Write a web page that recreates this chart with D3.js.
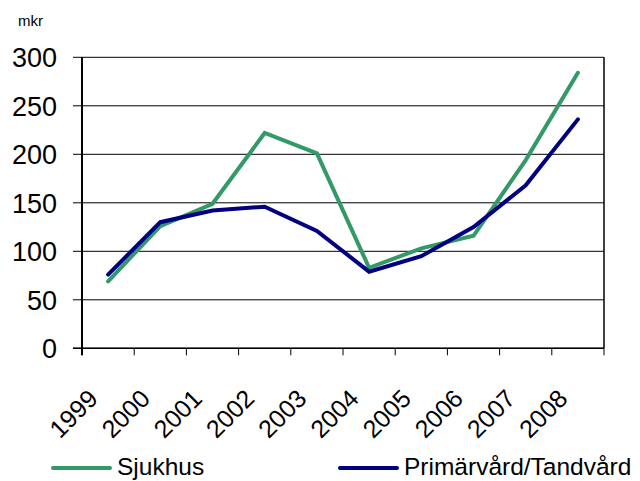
<!DOCTYPE html>
<html>
<head>
<meta charset="utf-8">
<script src="https://cdn.jsdelivr.net/npm/d3@7"></script>
<style>
  body { margin: 0; background: #fff; }
  text { font-family: "Liberation Sans", Arial, sans-serif; fill: #000; }
</style>
</head>
<body>
<div id="chart"></div>
<script>
const width = 640,
    height = 481;

// data
var years = ["1999", "2000", "2001", "2002", "2003", "2004", "2005", "2006", "2007", "2008"];
var sjukhus = [69, 126, 149, 222, 201, 83, 103, 116, 194, 284];
var primarvard = [76, 130, 142, 146, 121, 79, 95, 125, 168, 236];
var yTicks = [0, 50, 100, 150, 200, 250, 300];
var seriesNames = ["Sjukhus", "Primärvård/Tandvård"];
var seriesColors = ["#339966", "#000080"];

var svg = d3.select("#chart").append("svg")
    .attr("width", width)
    .attr("height", height);

var x = d3.scaleBand().domain(years).range([82, 604]).padding(0);
var y = d3.scaleLinear().domain([0, 300]).range([348.3, 57.3]);

// gridlines
svg.append("g")
    .selectAll("line")
    .data(yTicks)
    .join("line")
    .attr("x1", 73)
    .attr("x2", 604)
    .attr("y1", d => y(d))
    .attr("y2", d => y(d))
    .attr("stroke", "#000")
    .attr("stroke-width", 1);

// right border of plot area
svg.append("line")
    .attr("x1", 604).attr("x2", 604)
    .attr("y1", y(300)).attr("y2", y(0))
    .attr("stroke", "#000").attr("stroke-width", 1.5);

// y labels
svg.append("g")
    .selectAll("text")
    .data(yTicks)
    .join("text")
    .attr("x", 57)
    .attr("y", d => y(d))
    .attr("dy", "0.36em")
    .attr("text-anchor", "end")
    .style("font-size", "27px")
    .text(d => d);

svg.append("text")
    .attr("x", 18)
    .attr("y", 26)
    .style("font-size", "15px")
    .text("mkr");

// x axis ticks at category boundaries
var bounds = years.map(d => x(d)).concat([x.range()[1]]);
svg.append("g")
    .selectAll("line")
    .data(bounds)
    .join("line")
    .attr("x1", d => d).attr("x2", d => d)
    .attr("y1", y(0)).attr("y2", y(0) + 7)
    .attr("stroke", "#000").attr("stroke-width", 1);

svg.append("line")
    .attr("x1", 73).attr("x2", 604)
    .attr("y1", y(0)).attr("y2", y(0))
    .attr("stroke", "#000").attr("stroke-width", 1.5);

svg.append("line")
    .attr("x1", 82).attr("x2", 82)
    .attr("y1", y(300)).attr("y2", y(0) + 7)
    .attr("stroke", "#000").attr("stroke-width", 2);

svg.append("g")
    .selectAll("text")
    .data(years)
    .join("text")
    .attr("transform", d => "translate(" + (x(d) + x.bandwidth() / 2 - 15) + ",394) rotate(-45)")
    .attr("dy", "0.35em")
    .attr("text-anchor", "end")
    .style("font-size", "25px")
    .text(d => d);

// lines
var line = d3.line()
    .x((d, i) => x(years[i]) + x.bandwidth() / 2)
    .y(d => y(d));

[sjukhus, primarvard].forEach(function (s, i) {
    svg.append("path")
        .datum(s)
        .attr("fill", "none")
        .attr("stroke", seriesColors[i])
        .attr("stroke-width", 4)
        .attr("stroke-linecap", "round")
        .attr("d", line);
});

// legend
var legendX = [53, 340];
var legend = svg.append("g")
    .selectAll("g")
    .data(seriesNames)
    .join("g")
    .attr("transform", (d, i) => "translate(" + legendX[i] + ",468)");

legend.append("line")
    .attr("x1", 0).attr("x2", 57)
    .attr("stroke", (d, i) => seriesColors[i])
    .attr("stroke-width", 4)
    .attr("stroke-linecap", "round");

legend.append("text")
    .attr("x", 64)
    .attr("y", 7)
    .style("font-size", "24.5px")
    .text(d => d);
</script>
</body>
</html>
